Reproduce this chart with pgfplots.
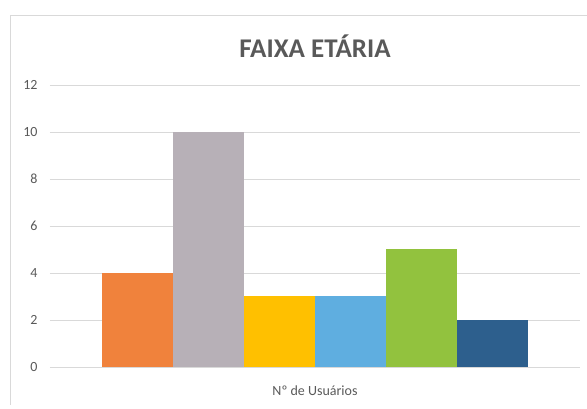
\documentclass[border=0pt]{standalone}
\usepackage{pgfplots}
\pgfplotsset{compat=1.18}
\usepackage{fontspec}
\setmainfont{Carlito}
\definecolor{c1}{HTML}{F0823C}
\definecolor{c2}{HTML}{B7B0B7}
\definecolor{c3}{HTML}{FFC000}
\definecolor{c4}{HTML}{5FAEE0}
\definecolor{c5}{HTML}{92C23E}
\definecolor{c6}{HTML}{2D5F8D}
\definecolor{txt}{HTML}{595959}
\definecolor{grd}{HTML}{D9D9D9}
\begin{document}
\begin{tikzpicture}
\useasboundingbox (-50pt,-42pt) rectangle (537pt,367pt);
\draw[grd, line width=0.8pt] (-40pt,-38pt) -- (-40pt,352pt) -- (537pt,352pt);
\begin{axis}[
  at={(0pt,0pt)}, anchor=south west,
  scale only axis, width=530pt, height=282pt,
  xmin=-3.73, xmax=3.73, ymin=0, ymax=12,
  ytick={0,2,...,12},
  xtick=\empty,
  axis line style={draw=none},
  ymajorgrids, grid style={grd, line width=0.8pt},
  major tick length=0pt,
  yticklabel style={font=\fontsize{14}{14}\selectfont, text=txt, xshift=-9pt},
  /pgf/number format/assume math mode=true,
  ybar, bar width=1, bar shift=0pt,
  xlabel={Nº de Usuários}, xlabel style={font=\fontsize{14}{14}\selectfont, text=txt, at={(axis description cs:0.5,0)}, anchor=center, yshift=-24pt},
  clip=false,
]
\addplot[fill=c1, draw=none] coordinates {(-2.5,4)};
\addplot[fill=c2, draw=none] coordinates {(-1.5,10)};
\addplot[fill=c3, draw=none] coordinates {(-0.5,3)};
\addplot[fill=c4, draw=none] coordinates {(0.5,3)};
\addplot[fill=c5, draw=none] coordinates {(1.5,5)};
\addplot[fill=c6, draw=none] coordinates {(2.5,2)};
\end{axis}
\node[font=\fontsize{27}{27}\bfseries, text=txt] at (265pt,321pt) {FAIXA ETÁRIA};
\end{tikzpicture}
\end{document}
